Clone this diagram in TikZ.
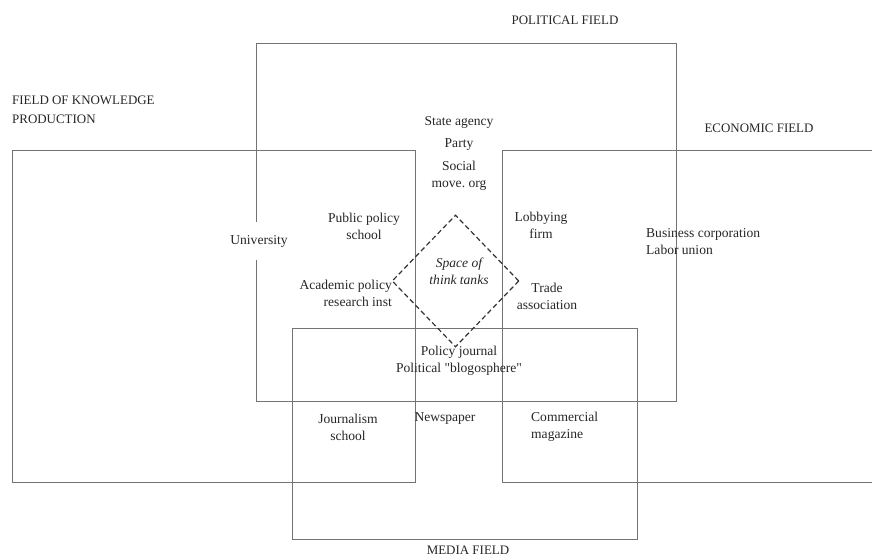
\documentclass[tikz,border=0pt]{standalone}
\usepackage{fontspec}
\setmainfont{Liberation Serif}[Ligatures=TeXOff]
\usetikzlibrary{shapes.geometric, positioning}

\tikzset{
  field/.style={draw=black!55, line width=0.8bp, inner sep=0pt},
  lbl/.style={font=\fontsize{13.6}{17}\selectfont, text=black!85, align=center, inner sep=0pt},
  fieldname/.style={lbl, font=\fontsize{13}{19}\selectfont},
  tankbox/.style={diamond, draw=black!80, dashed, dash pattern=on 5bp off 3bp, line width=1.2bp, inner sep=0pt}
}

\begin{document}
\begin{tikzpicture}[x=1bp, y=-1bp]
\useasboundingbox (0,0) rectangle (872,558);
% the four fields
\node (pol)   [field, minimum width=420bp, minimum height=358bp] at (466,222)   {};
\node (know)  [field, minimum width=403bp, minimum height=332bp] at (213.5,316) {};
\node (eco)   [field, minimum width=380bp, minimum height=332bp] at (692,316)   {};
\node (media) [field, minimum width=345bp, minimum height=211bp] at (464.5,433.5) {};
%
\node (tanks) [tankbox, minimum width=127bp, minimum height=132bp] at (455.5,281) {};
%
\node (polname)   [fieldname] at (565,20)  {POLITICAL FIELD};
\node (knowname)  [fieldname, anchor=west, align=left] at (12,110) {FIELD OF KNOWLEDGE\\PRODUCTION};
\node (econame)   [fieldname] at (759,128) {ECONOMIC FIELD};
\node (medianame) [fieldname] at (468,550) {MEDIA FIELD};
%
\node (state)  [lbl] at (459,122) {State agency};
\node (party)  [lbl] at (459,145) {Party};
\node (social) [lbl] at (459,176) {Social\\move.\ org};
\node (pubpol) [lbl] at (364,226) {Public policy\\school};
\node (univ)   [lbl, fill=white, inner xsep=2bp, inner ysep=13bp] at (259,241) {University};
\node (lobby)  [lbl] at (541,225) {Lobbying\\firm};
\node (busi)   [lbl, anchor=west, align=left] at (646,242) {Business corporation\\Labor union};
\node (space)  [lbl, font=\fontsize{13.6}{17}\selectfont\itshape] at (459,271) {Space of\\think tanks};
\node (acad)   [lbl, anchor=east, align=right] at (392,293) {Academic policy\\research inst};
\node (trade)  [lbl] at (547,296) {Trade\\association};
\node (journal)[lbl] at (459,361) {Policy journal\\Political "blogosphere"};
\node (jschool)[lbl] at (348,427) {Journalism\\school};
\node (news)   [lbl] at (445,419) {Newspaper};
\node (comm)   [lbl, anchor=west, align=left] at (531,427) {Commercial\\magazine};
\end{tikzpicture}
\end{document}
